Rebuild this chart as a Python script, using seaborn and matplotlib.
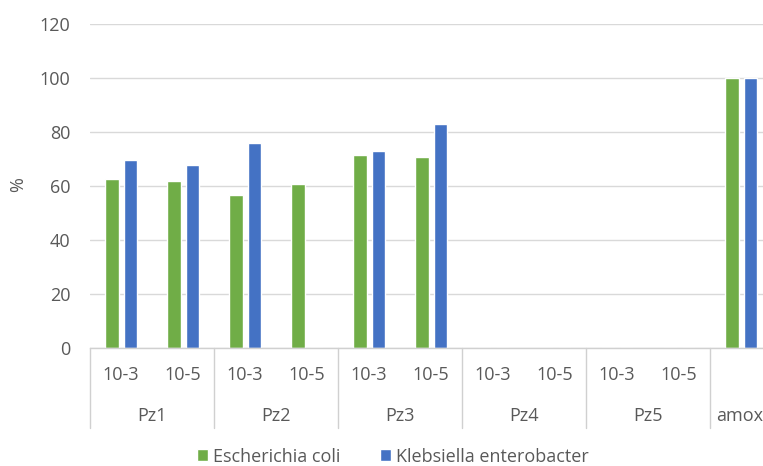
import pandas as pd
import matplotlib.pyplot as plt
import matplotlib.transforms as mtransforms
import seaborn as sns

# values
groups = ['Pz1', 'Pz2', 'Pz3', 'Pz4', 'Pz5', 'amox']
dilutions = ['10-3', '10-5']
series = ['Escherichia coli', 'Klebsiella enterobacter']
ecoli = [62.5, 61.8, 56.6, 60.6, 71.4, 70.7, 0, 0, 0, 0, 100]
klebs = [69.5, 67.7, 75.8, 0, 72.9, 82.8, 0, 0, 0, 0, 100]
colors = ['#70AD47', '#4472C4']

# build category keys (amox has no dilution level)
keys, sub_labels, group_of = [], [], []
for g in groups:
    if g == 'amox':
        keys.append(g)
        sub_labels.append('')
        group_of.append(g)
    else:
        for d in dilutions:
            keys.append(f'{g} {d}')
            sub_labels.append(d)
            group_of.append(g)

df = pd.DataFrame({
    'sample': keys * 2,
    'series': [series[0]] * len(keys) + [series[1]] * len(keys),
    'value': ecoli + klebs,
})

sns.set_theme(style='white')
plt.rcParams['font.family'] = ['Open Sans', 'DejaVu Sans']
text_color = '#595959'
fs = 13

fig = plt.figure(figsize=(7.63, 4.66), dpi=100)
ax = fig.add_axes([0.118, 0.2532, 0.894, 0.6953])

sns.barplot(data=df, x='sample', y='value', hue='series', order=keys,
            hue_order=series, palette=colors, width=0.6, gap=0.27,
            saturation=1, ax=ax, legend=True)

ax.set_ylim(0, 120)
ax.set_yticks(range(0, 121, 20))
ax.set_xlim(-0.5, len(keys) - 0.5)
ax.yaxis.grid(True, color='#D9D9D9', linewidth=1)
ax.set_axisbelow(True)
for s in ['left', 'right', 'top']:
    ax.spines[s].set_visible(False)
ax.spines['bottom'].set_color('#D0D0D0')
ax.spines['bottom'].set_linewidth(1)

ax.set_xticks(range(len(keys)))
ax.set_xticklabels(sub_labels)
ax.tick_params(axis='x', length=0, pad=13, labelsize=fs, labelcolor=text_color)
ax.tick_params(axis='y', length=0, pad=14, labelsize=fs, labelcolor=text_color)
ax.set_xlabel('')
ax.set_ylabel('')

# multi-level category axis: group labels and separators
trans = mtransforms.blended_transform_factory(ax.transData, ax.transAxes)
sep_bottom = -0.247
start = 0
bounds = [-0.5]
for g in groups:
    n = group_of.count(g)
    if g == 'amox':
        # last cell runs past the figure edge; keep its label inside
        ax.text(start - 0.4, -0.21, g, transform=trans, ha='left', va='center',
                fontsize=fs, color=text_color)
    else:
        center = start + (n - 1) / 2
        ax.text(center, -0.21, g, transform=trans, ha='center', va='center',
                fontsize=fs, color=text_color)
    start += n
    bounds.append(start - 0.5)
for b in bounds[:-1]:
    ax.plot([b, b], [0, sep_bottom], transform=trans, color='#D0D0D0',
            linewidth=1, clip_on=False)

fig.text(0.024, 0.603, '%', rotation=90, ha='center', va='center',
         fontsize=fs, color=text_color)

handles, labels = ax.get_legend_handles_labels()
ax.get_legend().remove()
fig.legend(handles, labels, loc='lower center', bbox_to_anchor=(0.515, -0.034),
           ncol=2, frameon=False, handlelength=0.6, handleheight=0.6,
           handletextpad=0.3, columnspacing=2.2, fontsize=fs,
           labelcolor=text_color)

fig.savefig('out.png', dpi=100)
